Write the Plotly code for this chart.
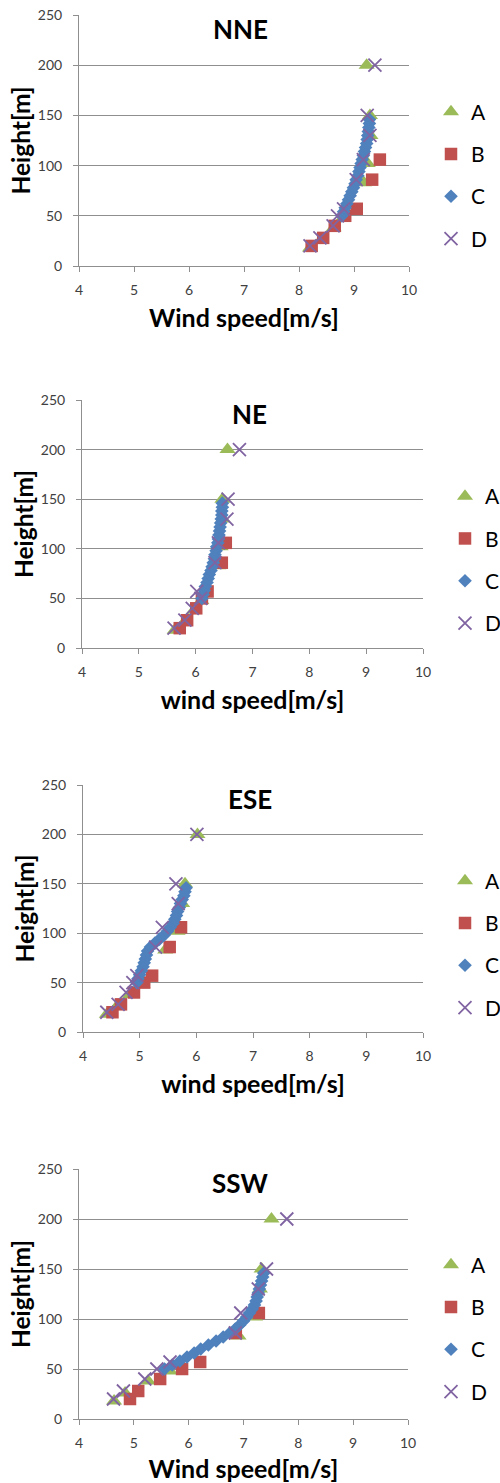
import plotly.graph_objects as go

# ---------------- data ----------------
PANELS = ["NNE", "NE", "ESE", "SSW"]
X_TITLES = ["Wind speed[m/s]", "wind speed[m/s]", "wind speed[m/s]", "Wind speed[m/s]"]
SERIES = ["A", "B", "C", "D"]

HEIGHTS_A = [18, 26, 38, 48, 83, 102, 130, 150, 200]
HEIGHTS_B = [20, 28, 40, 50, 57, 86, 106]
HEIGHTS_C = [50, 54, 58, 62, 66, 70, 74, 78, 82, 86, 90, 94, 98, 102, 106,
             110, 114, 118, 122, 126, 130, 134, 138, 142, 146]
HEIGHTS_D = [20, 28, 40, 50, 57, 86, 106, 130, 150, 200]

NNE_A = [8.20, 8.40, 8.63, 8.80, 9.18, 9.25, 9.30, 9.29, 9.23]
NNE_B = [8.23, 8.44, 8.65, 8.84, 9.05, 9.33, 9.47]
NNE_C = [8.78, 8.81, 8.84, 8.87, 8.90, 8.93, 8.96, 8.99, 9.02, 9.04, 9.07, 9.09, 9.11,
         9.13, 9.15, 9.17, 9.19, 9.21, 9.23, 9.24, 9.25, 9.26, 9.27, 9.28, 9.28]
NNE_D = [8.20, 8.38, 8.62, 8.70, 8.81, 9.04, 9.17, 9.29, 9.24, 9.38]

NE_A = [5.63, 5.80, 5.97, 6.10, 6.40, 6.44, 6.48, 6.47, 6.56]
NE_B = [5.72, 5.85, 6.01, 6.11, 6.21, 6.46, 6.53]
NE_C = [6.11, 6.13, 6.15, 6.17, 6.20, 6.22, 6.24, 6.27, 6.29, 6.31, 6.33, 6.34, 6.36,
        6.37, 6.39, 6.40, 6.41, 6.42, 6.43, 6.44, 6.45, 6.46, 6.46, 6.47, 6.47]
NE_D = [5.62, 5.81, 5.94, 6.09, 6.02, 6.34, 6.40, 6.55, 6.57, 6.77]

ESE_A = [4.42, 4.60, 4.83, 5.05, 5.45, 5.67, 5.75, 5.80, 6.02]
ESE_B = [4.52, 4.67, 4.90, 5.08, 5.22, 5.53, 5.73]
ESE_C = [4.95, 4.97, 5.00, 5.03, 5.06, 5.08, 5.10, 5.12, 5.14, 5.19, 5.27, 5.35, 5.43,
         5.49, 5.54, 5.59, 5.62, 5.65, 5.67, 5.70, 5.72, 5.75, 5.78, 5.80, 5.82]
ESE_D = [4.42, 4.62, 4.76, 4.88, 4.95, 5.28, 5.40, 5.68, 5.64, 6.01]

SSW_A = [4.64, 4.84, 5.26, 5.66, 6.91, 7.21, 7.30, 7.33, 7.51]
SSW_B = [4.93, 5.08, 5.48, 5.88, 6.21, 6.86, 7.28]
SSW_C = [5.56, 5.70, 5.84, 5.97, 6.10, 6.22, 6.36, 6.50, 6.63, 6.75, 6.85, 6.93, 7.00,
         7.06, 7.11, 7.16, 7.20, 7.23, 7.25, 7.27, 7.29, 7.31, 7.33, 7.35, 7.37]
SSW_D = [4.63, 4.81, 5.20, 5.42, 5.66, 6.85, 6.95, 7.27, 7.42, 7.79]

X_RANGE = [4, 10]
Y_RANGE = [0, 250]
X_TICKS = [4, 5, 6, 7, 8, 9, 10]
Y_TICKS = [0, 50, 100, 150, 200, 250]

DATA = {
    "NNE": (NNE_A, NNE_B, NNE_C, NNE_D),
    "NE": (NE_A, NE_B, NE_C, NE_D),
    "ESE": (ESE_A, ESE_B, ESE_C, ESE_D),
    "SSW": (SSW_A, SSW_B, SSW_C, SSW_D),
}
HEIGHTS = (HEIGHTS_A, HEIGHTS_B, HEIGHTS_C, HEIGHTS_D)

# ---------------- style ----------------
W, H = 500, 1483
FONT = "Lato, Carlito, Liberation Sans, sans-serif"
GRID = "#8f8f8f"
TICKC = "#404040"

COLORS = {"A": "#9BBB59", "B": "#C0504D", "C": "#4F81BD", "D": "#8064A2"}
MARKERS = {
    "A": dict(symbol="triangle-up", size=14, color=COLORS["A"]),
    "B": dict(symbol="square", size=12.5, color=COLORS["B"]),
    "C": dict(symbol="diamond", size=10.5, color=COLORS["C"]),
    "D": dict(symbol="x-thin", size=13, color=COLORS["D"],
              line=dict(width=1.8, color=COLORS["D"])),
}

# pixel geometry of each plot area: (left, right, top, bottom)
AREAS = [(79, 409, 15, 266), (82, 423, 400, 648), (83, 423, 785, 1032), (79, 408, 1169, 1419)]
LEGEND_X = [431, 445, 445, 431]
LEGEND_Y = [175.5, 560, 944.5, 1328.5]

fig = go.Figure()
layout = dict(
    width=W, height=H, margin=dict(l=0, r=0, t=0, b=0, autoexpand=False),
    paper_bgcolor="white", plot_bgcolor="white",
    font=dict(family=FONT, color="black"),
    annotations=[],
)

for i, name in enumerate(PANELS):
    n = "" if i == 0 else str(i + 1)
    xa, ya = "x" + n, "y" + n
    leg = "legend" + n
    l, r, t, b = AREAS[i]
    for s, xs, hs in zip(SERIES, DATA[name], HEIGHTS):
        fig.add_trace(go.Scatter(
            x=xs, y=hs, mode="markers", name=s, xaxis=xa, yaxis=ya,
            marker=MARKERS[s], legend=leg, legendgroup=name + s,
            hoverinfo="skip"))
    layout["xaxis" + n] = dict(
        domain=[l / W, r / W], anchor=ya, range=X_RANGE, tickvals=X_TICKS,
        automargin=False,
        showgrid=False, zeroline=False, showline=True, linecolor=GRID, linewidth=1,
        ticks="outside", ticklen=5, tickcolor=GRID, ticklabelstandoff=6,
        tickfont=dict(size=14, color=TICKC),
        title=dict(text=X_TITLES[i], font=dict(size=25, weight="bold"), standoff=12),
    )
    layout["yaxis" + n] = dict(
        domain=[1 - b / H, 1 - t / H], anchor=xa, range=Y_RANGE, tickvals=Y_TICKS,
        automargin=False,
        showgrid=True, gridcolor=GRID, gridwidth=1, zeroline=False,
        showline=True, linecolor=GRID, linewidth=1,
        ticks="outside", ticklen=5, tickcolor=GRID, ticklabelstandoff=8,
        tickfont=dict(size=14, color=TICKC),
        title=dict(text="Height[m]", font=dict(size=24.5, weight="bold"), standoff=0),
    )
    layout[leg] = dict(
        x=LEGEND_X[i] / W, xanchor="left",
        y=1 - LEGEND_Y[i] / H, yanchor="middle",
        font=dict(size=21, color="black"), bgcolor="rgba(0,0,0,0)",
        tracegroupgap=12, traceorder="grouped",
    )
    layout["annotations"].append(dict(
        text="<b>%s</b>" % name, xref=xa + " domain", yref=ya + " domain",
        x=0.49, y=0.944, xanchor="center", yanchor="middle", showarrow=False,
        font=dict(size=26, color="black"),
    ))

fig.update_layout(**layout)
fig.write_html(
    "out.html",
    config={"displayModeBar": False},
    post_script="document.body.style.margin='0px';document.body.style.padding='0px';",
)
